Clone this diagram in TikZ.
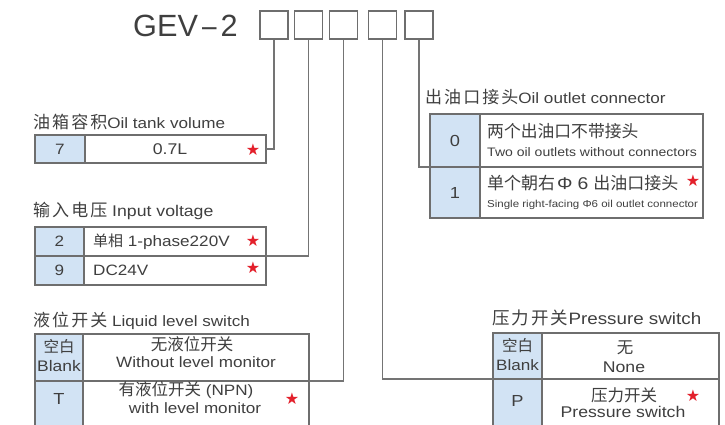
\documentclass[tikz,border=0pt]{standalone}
\usepackage{fontspec}
\setmainfont[FakeStretch=1.14]{Liberation Sans}
\newfontfamily\titlefont{Liberation Sans}
\newfontfamily\cjk{Noto Sans CJK SC}
\newfontfamily\cjkw[LetterSpace=12]{Noto Sans CJK SC}
\newfontfamily\symf{DejaVu Sans}
\definecolor{txt}{HTML}{3F3F3F}
\definecolor{bord}{HTML}{6E6E6E}
\definecolor{conn}{HTML}{747474}
\definecolor{cblue}{RGB}{210,227,244}
\definecolor{starred}{HTML}{E3202B}
\newcommand\zh[1]{{\cjk #1}}
\newcommand\zhl[1]{{\cjkw\fontsize{17}{20}\selectfont #1}}
\newcommand\fs[1]{\fontsize{#1}{#1}\selectfont}
\tikzset{
  codebox/.style={draw=bord, line width=1.3pt, minimum width=28pt, minimum height=28pt, inner sep=0pt},
  bcell/.style={draw=bord, fill=cblue, line width=1.1pt, anchor=north west, inner sep=0pt, outer sep=0pt},
  wcell/.style={draw=bord, fill=white, line width=1.1pt, anchor=north west, inner sep=0pt, outer sep=0pt},
  lbl/.style={anchor=west, inner sep=0pt, text=txt, font=\fs{15}},
  tx/.style={inner sep=0pt, text=txt, font=\fs{15}},
  txw/.style={anchor=west, inner sep=0pt, text=txt, font=\fs{15}},
  starn/.style={inner sep=0pt, text=starred, font=\symf\fs{16}},
  connline/.style={draw=conn, line width=1.2pt}
}
\begin{document}
\begin{tikzpicture}[x=1pt,y=-1pt]
\useasboundingbox (0,0) rectangle (725,425);
% title
\node[anchor=base west, inner sep=0pt, text=txt, font=\titlefont\fs{30.7}] (title) at (133,37) {GEV\kern4pt\scalebox{0.85}[1]{–}\kern4pt2};
\node[codebox] (b1) at (274,25) {};
\node[codebox] (b2) at (308.5,25) {};
\node[codebox] (b3) at (343.5,25) {};
\node[codebox] (b4) at (382.5,25) {};
\node[codebox] (b5) at (419,25) {};

% Oil tank volume
\node[lbl] (ltank) at (33,122) {\zhl{油箱容积}Oil tank volume};
\node[bcell, minimum width=50pt, minimum height=28pt] (tb7) at (35,135) {};
\node[wcell, minimum width=181pt, minimum height=28pt] (tw7) at (85,135) {};
\node[tx] (t7) at (tb7.center) {7};
\node[tx, font=\fs{15.5}] (t07) at (170,149.5) {0.7L};
\node[starn] (s1) at (253,150) {★};

% Input voltage
\node[lbl, font=\fs{15.5}] (lvolt) at (33,211) {\zhl{输入电压} Input voltage};
\node[bcell, minimum width=49pt, minimum height=29pt] (vb2) at (35,227) {};
\node[wcell, minimum width=182pt, minimum height=29pt] (vw2) at (84,227) {};
\node[bcell, minimum width=49pt, minimum height=29pt] (vb9) at (35,256) {};
\node[wcell, minimum width=182pt, minimum height=29pt] (vw9) at (84,256) {};
\node[tx] (v2) at (vb2.center) {2};
\node[tx] (v9) at (vb9.center) {9};
\node[txw] (v2t) at (93,241.5) {\zh{单相} 1-phase220V};
\node[txw] (v9t) at (93,270.5) {DC24V};
\node[starn] (s2) at (253,241) {★};
\node[starn] (s3) at (253,268) {★};

% Liquid level switch
\node[lbl] (lliq) at (33,321) {\zhl{液位开关} Liquid level switch};
\node[bcell, minimum width=48pt, minimum height=47pt] (lb1) at (35,334) {};
\node[wcell, minimum width=226pt, minimum height=47pt] (lw1) at (83,334) {};
\node[bcell, minimum width=48pt, minimum height=48pt] (lb2) at (35,381) {};
\node[wcell, minimum width=226pt, minimum height=48pt] (lw2) at (83,381) {};
\node[tx, font=\cjk\fs{15.5}] (lk1) at (59,347) {空白};
\node[tx, font=\fs{15.3}] (lk2) at (59,366) {Blank};
\node[tx, font=\cjk\fs{16.5}] (lw1a) at (192,344) {无液位开关};
\node[tx] (lw1b) at (196,362.5) {Without level monitor};
\node[tx, font=\fs{16}] (lT) at (59,399) {T};
\node[tx] (lw2a) at (186,390) {\zh{\fs{16.5}有液位开关} (NPN)};
\node[tx] (lw2b) at (195,408) {with level monitor};
\node[starn] (s4) at (292,399) {★};

% Oil outlet connector
\node[lbl] (loil) at (425,97) {\zhl{出油口接头}Oil outlet connector};
\node[bcell, minimum width=50pt, minimum height=53pt] (ob0) at (430,114) {};
\node[wcell, minimum width=223pt, minimum height=53pt] (ow0) at (480,114) {};
\node[bcell, minimum width=50pt, minimum height=51pt] (ob1) at (430,167) {};
\node[wcell, minimum width=223pt, minimum height=51pt] (ow1) at (480,167) {};
\node[tx, font=\fs{16}] (o0) at (ob0.center) {0};
\node[tx, font=\fs{16}] (o1) at (ob1.center) {1};
\node[txw, font=\cjk\fs{16.8}] (o0a) at (487,131) {两个出油口不带接头};
\node[txw, font=\fs{12.3}] (o0b) at (487,152.5) {Two oil outlets without connectors};
\node[txw, font=\cjk\fs{17}] (o1a) at (487,183) {单个朝右\kern2pt{\rmfamily Φ}\kern5pt{\rmfamily 6}\kern5pt 出油口接头};
\node[txw, font=\fs{10.1}] (o1b) at (487,205) {Single right-facing Φ6 oil outlet connector};
\node[starn] (s5) at (693,181) {★};

% Pressure switch
\node[lbl, font=\fs{16.5}] (lpres) at (492,318) {{\cjkw\fontsize{17.5}{20}\selectfont 压力开关}Pressure switch};
\node[bcell, minimum width=49pt, minimum height=46pt] (pb1) at (493,333) {};
\node[wcell, minimum width=177pt, minimum height=46pt] (pw1) at (542,333) {};
\node[bcell, minimum width=49pt, minimum height=48pt] (pb2) at (493,379) {};
\node[wcell, minimum width=177pt, minimum height=48pt] (pw2) at (542,379) {};
\node[tx, font=\cjk\fs{15.5}] (pk1) at (517.5,346) {空白};
\node[tx, font=\fs{15}] (pk2) at (517.5,365) {Blank};
\node[tx, font=\cjk\fs{16.5}] (pw1a) at (625,348) {无};
\node[tx, font=\fs{15.5}] (pw1b) at (624,367) {None};
\node[tx, font=\fs{16}] (pP) at (517.5,401) {P};
\node[tx, font=\cjk\fs{16.5}] (pw2a) at (624,395) {压力开关};
\node[tx, font=\fs{15.5}] (pw2b) at (623,412) {Pressure switch};
\node[starn] (s6) at (693,396) {★};

% connectors
\draw[connline] (b1.south) |- (tw7.east);
\draw[connline] (b2.south) |- (vw2.south east);
\draw[connline] (b3.south) |- (lw1.south east);
\draw[connline] (b4.south) |- (pb1.south west);
\draw[connline] (b5.south) |- (ob0.south west);
\end{tikzpicture}
\end{document}
